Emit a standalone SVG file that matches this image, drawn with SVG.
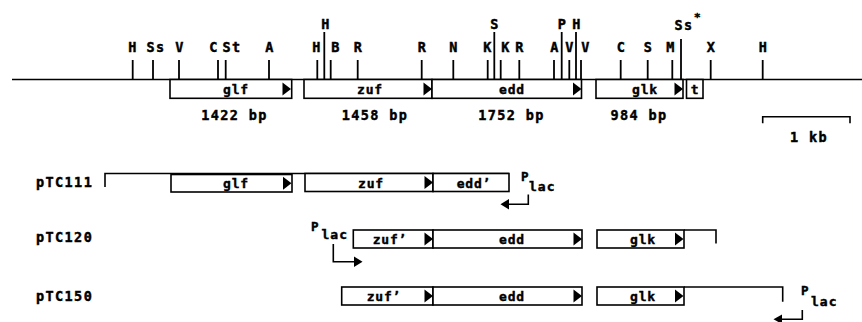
<svg xmlns="http://www.w3.org/2000/svg" xmlns:xlink="http://www.w3.org/1999/xlink" width="862" height="322" viewBox="0 0 862 322">
<style>
.ln{stroke:#000;stroke-width:1.6;fill:none}
.bx{stroke:#000;stroke-width:1.6;fill:#fff}
.tk{stroke:#000;stroke-width:1.8}
.t{font-family:"DejaVu Sans Mono","Liberation Mono",monospace;font-weight:bold;font-size:13.5px;letter-spacing:1.4px;fill:#000;stroke:#000;stroke-width:0.45}
.m{text-anchor:middle}
.g{font-family:"DejaVu Sans Mono","Liberation Mono",monospace;font-weight:bold;font-size:13px;letter-spacing:0.8px;fill:#000;stroke:#000;stroke-width:0.4;text-anchor:middle}
</style>
<defs>
<path id="tri" d="M0,-6.5 L8.5,0 L0,6.5 Z" fill="#000"/>
</defs>
<rect width="862" height="322" fill="#fff"/>

<g id="map">
<line class="ln" x1="12" y1="79.5" x2="862" y2="79.5"/>
<g id="ticks">
<line class="tk" x1="132.7" y1="60" x2="132.7" y2="79.5"/>
<line class="tk" x1="153" y1="60" x2="153" y2="79.5"/>
<line class="tk" x1="179" y1="60" x2="179" y2="79.5"/>
<line class="tk" x1="218" y1="60" x2="218" y2="79.5"/>
<line class="tk" x1="225.7" y1="60" x2="225.7" y2="79.5"/>
<line class="tk" x1="269" y1="60" x2="269" y2="79.5"/>
<line class="tk" x1="317.3" y1="60" x2="317.3" y2="79.5"/>
<line class="tk" x1="324.3" y1="32" x2="324.3" y2="79.5"/>
<line class="tk" x1="330.7" y1="60" x2="330.7" y2="79.5"/>
<line class="tk" x1="357.7" y1="60" x2="357.7" y2="79.5"/>
<line class="tk" x1="421.7" y1="60" x2="421.7" y2="79.5"/>
<line class="tk" x1="453.3" y1="60" x2="453.3" y2="79.5"/>
<line class="tk" x1="487.7" y1="60" x2="487.7" y2="79.5"/>
<line class="tk" x1="494.3" y1="32" x2="494.3" y2="79.5"/>
<line class="tk" x1="500.7" y1="60" x2="500.7" y2="79.5"/>
<line class="tk" x1="519.3" y1="60" x2="519.3" y2="79.5"/>
<line class="tk" x1="554" y1="60" x2="554" y2="79.5"/>
<line class="tk" x1="561.7" y1="32" x2="561.7" y2="79.5"/>
<line class="tk" x1="569.3" y1="60" x2="569.3" y2="79.5"/>
<line class="tk" x1="576" y1="32" x2="576" y2="79.5"/>
<line class="tk" x1="581" y1="60" x2="581" y2="79.5"/>
<line class="tk" x1="620.7" y1="60" x2="620.7" y2="79.5"/>
<line class="tk" x1="647.7" y1="60" x2="647.7" y2="79.5"/>
<line class="tk" x1="672.3" y1="60" x2="672.3" y2="79.5"/>
<line class="tk" x1="681" y1="39" x2="681" y2="79.5"/>
<line class="tk" x1="710.7" y1="60" x2="710.7" y2="79.5"/>
<line class="tk" x1="762.7" y1="60" x2="762.7" y2="79.5"/>
</g>
<g id="sites" class="t m">
<text x="133" y="51.5">H</text>
<text x="156" y="51.5">Ss</text>
<text x="180" y="51.5">V</text>
<text x="214" y="51.5">C</text>
<text x="232" y="51.5">St</text>
<text x="270" y="51.5">A</text>
<text x="317" y="51.5">H</text>
<text x="336" y="51.5">B</text>
<text x="358.5" y="51.5">R</text>
<text x="422.5" y="51.5">R</text>
<text x="454" y="51.5">N</text>
<text x="488" y="51.5">K</text>
<text x="506" y="51.5">K</text>
<text x="520" y="51.5">R</text>
<text x="555" y="51.5">A</text>
<text x="570" y="51.5">V</text>
<text x="586" y="51.5">V</text>
<text x="621.5" y="51.5">C</text>
<text x="648.5" y="51.5">S</text>
<text x="671" y="51.5">M</text>
<text x="711.5" y="51.5">X</text>
<text x="763.5" y="51.5">H</text>
<text x="326" y="28.5">H</text>
<text x="495" y="28.5">S</text>
<text x="562.5" y="28.5">P</text>
<text x="577" y="28.5">H</text>
<text x="684" y="29.5">Ss</text>
<text x="698" y="21" style="font-size:11px">*</text>
</g>
<g id="genes">
<rect class="bx" x="170" y="79.5" width="121.7" height="18.8"/>
<use xlink:href="#tri" x="282.5" y="89"/>
<text class="g" x="236" y="93.5">glf</text>
<rect class="bx" x="304" y="79.5" width="128" height="18.8"/>
<use xlink:href="#tri" x="423.5" y="89"/>
<text class="g" x="370" y="93.5">zuf</text>
<rect class="bx" x="432" y="79.5" width="149.5" height="18.8"/>
<use xlink:href="#tri" x="573" y="89"/>
<text class="g" x="512" y="93.5">edd</text>
<rect class="bx" x="596" y="79.5" width="87" height="18.8"/>
<use xlink:href="#tri" x="674.5" y="89"/>
<text class="g" x="645" y="93.5">glk</text>
<rect class="bx" x="686.5" y="79.5" width="16.5" height="18.8"/>
<text class="g" x="695" y="93.5">t</text>
</g>
<g id="sizes" class="t m">
<text x="234.5" y="120">1422 bp</text>
<text x="375" y="120">1458 bp</text>
<text x="511.5" y="120">1752 bp</text>
<text x="639" y="120">984 bp</text>
</g>
</g>

<g id="scale">
<path class="ln" d="M762.7,123.3 V116.7 H850 V123.3"/>
<text class="t m" x="809" y="141.5">1 kb</text>
</g>

<g id="pTC111">
<text class="t" x="36" y="186.5">pTC111</text>
<path class="ln" d="M105,187 V173.5 H509"/>
<rect class="bx" x="171" y="174.5" width="121" height="17.5"/>
<use xlink:href="#tri" x="283" y="183.2"/>
<text class="g" x="236" y="188">glf</text>
<rect class="bx" x="305" y="173.5" width="128" height="18"/>
<use xlink:href="#tri" x="424.5" y="182.5"/>
<text class="g" x="371" y="187.5">zuf</text>
<rect class="bx" x="433" y="173.5" width="76" height="18"/>
<text class="g" x="474" y="187.5">edd’</text>
<text class="t" x="521" y="180.5" style="font-size:12.5px">P</text>
<text class="t" x="529" y="191" style="font-size:13px;letter-spacing:1px">lac</text>
<path class="ln" d="M528.3,194.5 V204.3 H508"/>
<polygon points="500.5,204.3 509,199 509,209.6" fill="#000"/>
</g>

<g id="pTC120">
<text class="t" x="36" y="242">pTC120</text>
<path class="ln" d="M684,230 H716 V243.5"/>
<rect class="bx" x="353.3" y="230" width="79.7" height="18"/>
<use xlink:href="#tri" x="424.5" y="239"/>
<text class="g" x="390" y="243.5">zuf’</text>
<rect class="bx" x="433" y="230" width="149" height="18"/>
<use xlink:href="#tri" x="573.5" y="239"/>
<text class="g" x="512" y="243.5">edd</text>
<rect class="bx" x="597" y="230" width="87" height="18"/>
<use xlink:href="#tri" x="675" y="239"/>
<text class="g" x="643" y="243.5">glk</text>
<text class="t" x="311" y="230.5" style="font-size:12.5px">P</text>
<text class="t" x="321.5" y="239" style="font-size:13px;letter-spacing:1px">lac</text>
<path class="ln" d="M333.3,244 V261.7 H355"/>
<polygon points="362.5,261.7 354,256.4 354,267" fill="#000"/>
</g>

<g id="pTC150">
<text class="t" x="36" y="301">pTC150</text>
<path class="ln" d="M684,287 H782.7 V301.7"/>
<rect class="bx" x="341.7" y="287" width="91.3" height="18"/>
<use xlink:href="#tri" x="424.5" y="296"/>
<text class="g" x="384" y="300.5">zuf’</text>
<rect class="bx" x="433" y="287" width="149" height="18"/>
<use xlink:href="#tri" x="573.5" y="296"/>
<text class="g" x="512" y="300.5">edd</text>
<rect class="bx" x="597" y="287" width="87" height="18"/>
<use xlink:href="#tri" x="675" y="296"/>
<text class="g" x="643" y="300.5">glk</text>
<text class="t" x="801" y="295" style="font-size:12.5px">P</text>
<text class="t" x="811" y="306" style="font-size:13px;letter-spacing:1px">lac</text>
<path class="ln" d="M802.3,310 V319.3 H781"/>
<polygon points="773.5,319.3 782,314.5 782,324" fill="#000"/>
</g>
</svg>
